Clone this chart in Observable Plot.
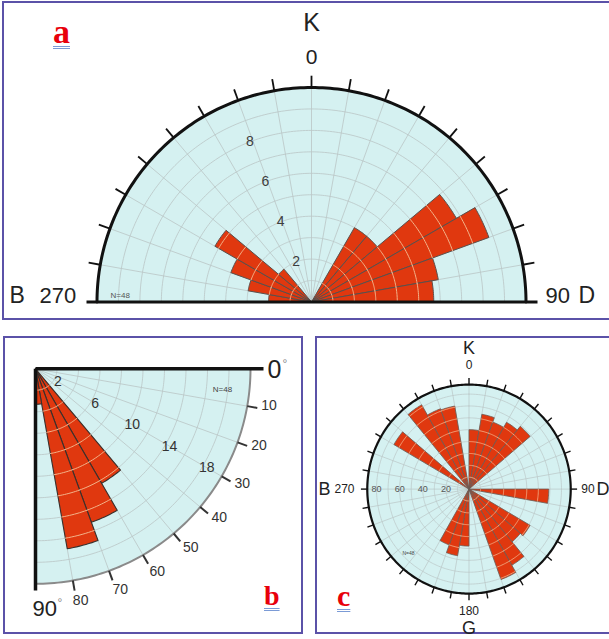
<!DOCTYPE html>
<html>
<head>
<meta charset="utf-8">
<script src="https://cdn.jsdelivr.net/npm/d3@7"></script>
<script src="https://cdn.jsdelivr.net/npm/@observablehq/plot@0.6"></script>
<style>
  html, body { margin: 0; padding: 0; background: #fff; }
  #page { position: relative; width: 609px; height: 639px; overflow: hidden; background: #fff; }
  .panel { position: absolute; box-sizing: border-box; border: 2px solid #5b52a8; }
  .tag { position: absolute; font-family: "Liberation Serif", "DejaVu Serif", serif; font-weight: bold;
         color: #e8000b; line-height: 1; text-decoration-line: underline; text-decoration-style: double;
         text-decoration-color: #7b9bd6; text-decoration-thickness: 1px; text-underline-offset: 3px; }
</style>
</head>
<body>
<div id="page"></div>
<script>
// ---------------- DATA ----------------
// Panel a: half rose of strikes, 10° bins (bin start azimuth) and petal length
const binStartA = [270, 280, 290, 300, 310, 30, 40, 50, 60, 70, 80];
const valueA    = [2, 3, 4, 5.2, 2, 4, 4, 7.8, 8.8, 6, 5.7];
const ringLabelA = [2, 4, 6, 8];

// Panel b: quarter rose of dips, 10° bins (measured from 0° horizontal)
const binStartB = [50, 60, 70, 80];
const valueB    = [12.3, 15.2, 17, 3.3];
const ringLabelB = [2, 6, 10, 14, 18];
const tickLabelB = [10, 20, 30, 40, 50, 60, 70, 80];

// Panel c: full rose, 10° bins
const binStartC = [0, 10, 20, 30, 40, 90, 120, 130, 140, 150, 180, 190, 200, 300, 320, 330, 340];
const valueC    = [50, 64, 60, 65, 69, 69, 61, 58, 74, 81, 48, 57, 50, 75, 82, 72, 71];
const ringLabelC = [20, 40, 60, 80];

// direction names
const cardinalLetters = ["K", "D", "G", "B"];
const cardinalDegrees = ["0", "90", "180", "270"];
const sampleText = "N=48";
const panelTags = ["a", "b", "c"];

// ---------------- STYLE ----------------
const BG = "#d5f1f1", GRID = "#bac5c5", RED = "#e0380f", EDGE = "#5b504c", PEACH = "#f3b38a";
const FONT = '"Liberation Sans", Arial, Helvetica, sans-serif';

// ---------------- GEOMETRY HELPERS ----------------
const rad = d => d * Math.PI / 180;
const pt = (az, r, id) => ({x: r * Math.sin(rad(az)), y: r * Math.cos(rad(az)), id});
function arc(a0, a1, r, id) {
  const n = Math.max(2, Math.ceil(Math.abs(a1 - a0)) + 1);
  return d3.range(n).map(i => pt(a0 + (a1 - a0) * i / (n - 1), r, id));
}
function sector(a0, a1, r, id) { return [pt(0, 0, id), ...arc(a0, a1, r, id), pt(0, 0, id)]; }
function petals(starts, values, toAz) {
  return starts.flatMap((s, i) => sector(toAz(s), toAz(s + 10), values[i], "p" + i));
}
function petalRings(starts, values, toAz, step) {
  return starts.flatMap((s, i) =>
    d3.range(step, values[i] - step * 0.05, step).flatMap(r => arc(toAz(s), toAz(s + 10), r, `p${i}r${r}`)));
}
const XY = {x: "x", y: "y"};

const page = document.getElementById("page");

function polar({left, top, w, h, pcx, pcy, kx, ky, marks}) {
  const cx = pcx - left, cy = pcy - top;
  const svg = Plot.plot({
    width: w, height: h, margin: 0,
    x: {type: "linear", domain: [-cx / kx, (w - cx) / kx], range: [0, w], axis: null},
    y: {type: "linear", domain: [(cy - h) / ky, cy / ky], range: [h, 0], axis: null},
    style: {background: "transparent", fontFamily: FONT, overflow: "visible", color: "#222"},
    marks
  });
  svg.style.position = "absolute";
  svg.style.left = left + "px";
  svg.style.top = top + "px";
  page.appendChild(svg);
}
function label(t, x, y, opts = {}) {
  return Plot.text([t], {x: () => x, y: () => y, text: d => d, fill: "#222", ...opts});
}
function box(left, top, w, h) {
  const d = document.createElement("div");
  d.className = "panel";
  Object.assign(d.style, {left: left + "px", top: top + "px", width: w + "px", height: h + "px"});
  page.appendChild(d);
}
function tag(t, left, top, size) {
  const d = document.createElement("div");
  d.className = "tag";
  d.textContent = t;
  Object.assign(d.style, {left: left + "px", top: top + "px", fontSize: size + "px"});
  page.appendChild(d);
}

// ---------------- PANEL BOXES ----------------
box(2, 1, 612, 319);
box(3, 336, 300, 298);
box(315, 336, 310, 298);

// ---------------- PANEL A ----------------
{
  const pcx = 311, pcy = 301.5, k = 21.45, R = 10;
  const X = px => (px - pcx) / k, Y = py => (pcy - py) / k;
  const az = a => a;
  polar({left: 0, top: 0, w: 609, h: 322, pcx, pcy, kx: k, ky: k, marks: [
    Plot.line(sector(-90, 90, R, "bg"), {...XY, fill: BG, stroke: "none"}),
    Plot.line(d3.range(1, R).flatMap(r => arc(-90, 90, r, "r" + r)), {...XY, z: "id", stroke: GRID, strokeWidth: 0.8}),
    Plot.link(d3.range(-80, 81, 10), {x1: () => 0, y1: () => 0, x2: a => pt(a, R).x, y2: a => pt(a, R).y, stroke: GRID, strokeWidth: 0.8}),
    Plot.line(petals(binStartA, valueA, az), {...XY, z: "id", fill: RED, stroke: EDGE, strokeWidth: 1}),
    Plot.line(petalRings(binStartA, valueA, az, 1), {...XY, z: "id", stroke: PEACH, strokeWidth: 1}),
    Plot.line(arc(-90, 90, R, "outer"), {...XY, stroke: "#111", strokeWidth: 3}),
    Plot.link([0], {x1: () => X(86), x2: () => X(537), y1: () => 0, y2: () => 0, stroke: "#111", strokeWidth: 3}),
    Plot.link(d3.range(-80, 81, 10), {x1: a => pt(a, R).x, y1: a => pt(a, R).y, x2: a => pt(a, R + 0.55).x, y2: a => pt(a, R + 0.55).y, stroke: "#111", strokeWidth: 1.8}),
    Plot.text(ringLabelA, {x: v => pt(-21, v).x, y: v => pt(-21, v).y, text: v => String(v), fontSize: 14, fill: "#3d3d3d"}),
    label(cardinalLetters[0], 0, Y(22), {fontSize: 25}),
    label(cardinalDegrees[0], 0, Y(57), {fontSize: 21}),
    label(cardinalLetters[3], X(9), Y(295.5), {fontSize: 23, textAnchor: "start"}),
    label(cardinalDegrees[3], X(39), Y(295.5), {fontSize: 22, textAnchor: "start"}),
    label(cardinalDegrees[1], X(545), Y(295.5), {fontSize: 22, textAnchor: "start"}),
    label(cardinalLetters[1], X(578), Y(295.5), {fontSize: 23, textAnchor: "start"}),
    label(sampleText, X(110), Y(295), {fontSize: 8, fill: "#555", textAnchor: "start"})
  ]});
}

// ---------------- PANEL B ----------------
{
  const pcx = 35, pcy = 368.3, k = 10.75, R = 20;
  const X = px => (px - pcx) / k, Y = py => (pcy - py) / k;
  const az = t => 90 + t;
  polar({left: 0, top: 330, w: 305, h: 305, pcx, pcy, kx: k, ky: k, marks: [
    Plot.line(sector(90, 180, R, "bg"), {...XY, fill: BG, stroke: "none"}),
    Plot.line(d3.range(2, R, 2).flatMap(r => arc(90, 180, r, "r" + r)), {...XY, z: "id", stroke: GRID, strokeWidth: 0.8}),
    Plot.link(d3.range(10, 81, 10), {x1: () => 0, y1: () => 0, x2: t => pt(az(t), R).x, y2: t => pt(az(t), R).y, stroke: GRID, strokeWidth: 0.8}),
    Plot.line(petals(binStartB, valueB, az), {...XY, z: "id", fill: RED, stroke: "#3a302c", strokeWidth: 1.1}),
    Plot.line(petalRings(binStartB, valueB, az, 2), {...XY, z: "id", stroke: PEACH, strokeWidth: 1}),
    Plot.line(arc(90, 180, R, "outer"), {...XY, stroke: "#8a8a8a", strokeWidth: 2}),
    Plot.link([0], {x1: () => 0, y1: () => 0, x2: () => X(263), y2: () => 0, stroke: "#111", strokeWidth: 3.5}),
    Plot.link([0], {x1: () => 0, y1: () => 0, x2: () => 0, y2: () => Y(590), stroke: "#111", strokeWidth: 3.5}),
    Plot.link(tickLabelB, {x1: t => pt(az(t), R).x, y1: t => pt(az(t), R).y, x2: t => pt(az(t), R + 0.95).x, y2: t => pt(az(t), R + 0.95).y, stroke: "#333", strokeWidth: 2}),
    Plot.text(tickLabelB, {x: t => pt(az(t - 1), R + 2).x, y: t => pt(az(t - 1), R + 2).y, text: t => String(t), fontSize: 14, fill: "#333"}),
    Plot.text(ringLabelB, {x: v => pt(az(30), v + 0.4).x, y: v => pt(az(30), v + 0.4).y, text: v => String(v), fontSize: 14, fill: "#333"}),
    label(cardinalDegrees[0], X(267), Y(369), {fontSize: 25, textAnchor: "start"}),
    label("°", X(282), Y(364), {fontSize: 12, fill: "#888", textAnchor: "start"}),
    label(cardinalDegrees[1], X(32), Y(608), {fontSize: 22, textAnchor: "start"}),
    label("°", X(57), Y(603), {fontSize: 12, fill: "#888", textAnchor: "start"}),
    label(sampleText, X(222), Y(389), {fontSize: 8, fill: "#444"})
  ]});
}

// ---------------- PANEL C ----------------
{
  const pcx = 468.5, pcy = 488.6, kx = 1.156, ky = 1.1875, R = 88;
  const X = px => (px - pcx) / kx, Y = py => (pcy - py) / ky;
  const az = a => a;
  polar({left: 310, top: 330, w: 299, h: 305, pcx, pcy, kx, ky, marks: [
    Plot.line(arc(0, 360, R, "bg"), {...XY, fill: BG, stroke: "none"}),
    Plot.line(d3.range(10, R, 10).flatMap(r => arc(0, 360, r, "r" + r)), {...XY, z: "id", stroke: GRID, strokeWidth: 0.7}),
    Plot.link(d3.range(0, 360, 10), {x1: () => 0, y1: () => 0, x2: a => pt(a, R).x, y2: a => pt(a, R).y, stroke: GRID, strokeWidth: 0.7}),
    Plot.line(petals(binStartC, valueC, az), {...XY, z: "id", fill: RED, stroke: "#6a5c56", strokeWidth: 0.8}),
    Plot.line(petalRings(binStartC, valueC, az, 10), {...XY, z: "id", stroke: PEACH, strokeWidth: 0.8}),
    Plot.line(arc(0, 360, R, "outer"), {...XY, stroke: "#111", strokeWidth: 2.2}),
    Plot.link(d3.range(0, 360, 10), {x1: a => pt(a, R).x, y1: a => pt(a, R).y, x2: a => pt(a, R + 5.5).x, y2: a => pt(a, R + 5.5).y, stroke: "#111", strokeWidth: 1.4}),
    Plot.text(ringLabelC, {x: v => pt(270, v).x, y: v => pt(270, v).y, text: v => String(v), fontSize: 9, fill: "#555"}),
    label(cardinalLetters[0], 0, Y(348), {fontSize: 18}),
    label(cardinalDegrees[0], 0, Y(364.5), {fontSize: 12}),
    label(cardinalDegrees[2], 0, Y(611), {fontSize: 12}),
    label(cardinalLetters[2], 0, Y(628), {fontSize: 18}),
    label(cardinalLetters[3], X(324), Y(488.5), {fontSize: 18}),
    label(cardinalDegrees[3], X(344), Y(488.5), {fontSize: 12}),
    label(cardinalDegrees[1], X(587.5), Y(488.5), {fontSize: 12}),
    label(cardinalLetters[1], X(602.5), Y(488.5), {fontSize: 18}),
    label(sampleText, X(408), Y(553), {fontSize: 5, fill: "#444"})
  ]});
}

// ---------------- PANEL TAGS ----------------
tag(panelTags[0], 53, 15, 34);
tag(panelTags[1], 264, 582, 28);
tag(panelTags[2], 337, 581, 30);
</script>
</body>
</html>
